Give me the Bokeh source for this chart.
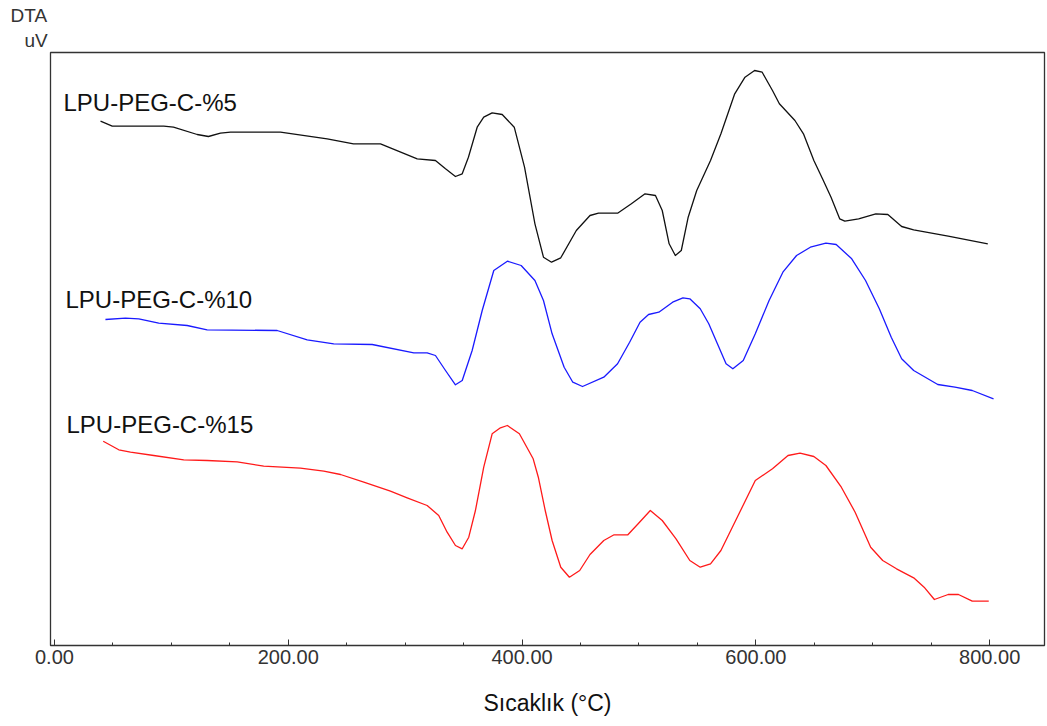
from bokeh.plotting import figure
from bokeh.models import Range1d, FixedTicker, NumeralTickFormatter, Label, Title
from bokeh.embed import file_html
from bokeh.resources import INLINE

# ---- data (temperature in °C, DTA signal in arbitrary uV units) ----
t_5 = [39.4, 49.4, 93.5, 101.8, 122.1, 131.7, 142.0, 150.6, 193.3, 233.3, 255.8, 278.9,
       310.3, 325.9, 334.5, 343.0, 348.8, 354.1, 361.6, 367.2, 374.4, 383.0, 393.3, 402.1,
       411.0, 418.3, 425.2, 433.1, 446.4, 458.1, 465.4, 481.7, 493.5, 505.2, 514.1, 519.9,
       525.8, 531.1, 536.2, 542.1, 549.4, 561.2, 570.1, 581.9, 590.7, 598.9, 605.4, 614.2,
       620.1, 633.4, 640.7, 649.6, 657.0, 664.3, 671.7, 676.1, 687.9, 702.6, 712.9, 724.7,
       735.0, 764.5, 798.4]
dta_5 = [52.43, 51.93, 51.93, 51.83, 51.10, 50.90, 51.23, 51.33, 51.33, 50.67, 50.17, 50.17,
         48.67, 48.50, 47.67, 46.90, 47.17, 48.83, 51.83, 52.83, 53.27, 53.10, 51.83, 47.83,
         42.17, 38.83, 38.33, 38.77, 41.50, 43.00, 43.23, 43.23, 44.17, 45.17, 45.00, 43.50,
         40.17, 39.00, 39.50, 42.83, 45.50, 48.50, 51.17, 55.17, 56.83, 57.50, 57.33, 55.50,
         54.17, 52.50, 51.17, 48.50, 46.67, 44.83, 42.67, 42.43, 42.67, 43.17, 43.10, 41.90,
         41.57, 40.93, 40.17]

t_10 = [43.6, 60.7, 72.1, 89.2, 113.5, 130.6, 190.5, 216.2, 238.9, 271.8, 307.4, 318.8,
        325.9, 334.5, 343.0, 348.8, 357.3, 365.9, 375.8, 387.4, 399.2, 411.0, 418.3, 425.7,
        436.0, 443.4, 451.7, 469.9, 481.7, 492.0, 500.9, 508.2, 517.0, 528.8, 537.6, 543.5,
        552.4, 559.7, 567.1, 574.5, 580.3, 589.2, 599.5, 611.3, 623.1, 634.8, 646.6, 659.9,
        668.7, 682.0, 693.8, 705.6, 715.8, 724.7, 735.0, 755.6, 770.3, 785.1, 803.3]
dta_10 = [32.60, 32.73, 32.67, 32.23, 32.00, 31.57, 31.50, 30.57, 30.17, 30.10, 29.27, 29.27,
          29.00, 27.50, 26.07, 26.50, 29.50, 33.50, 37.50, 38.43, 38.00, 36.50, 34.50, 31.17,
          27.83, 26.33, 25.90, 26.83, 28.17, 30.33, 32.33, 33.10, 33.33, 34.33, 34.77, 34.67,
          33.67, 32.17, 30.17, 28.17, 27.67, 28.50, 31.17, 34.50, 37.33, 39.00, 39.83, 40.23,
          40.10, 38.67, 36.50, 33.67, 30.83, 28.67, 27.50, 26.10, 25.83, 25.50, 24.67]

t_15 = [41.7, 55.0, 65.0, 84.9, 110.6, 130.6, 156.3, 179.0, 210.4, 230.4, 244.7, 264.6,
        287.4, 301.7, 318.8, 328.7, 335.9, 343.0, 348.8, 354.4, 360.1, 367.2, 374.4, 381.5,
        387.4, 397.7, 409.5, 413.9, 419.8, 425.7, 433.1, 440.5, 449.3, 458.1, 469.9, 478.7,
        490.5, 499.3, 509.7, 519.9, 531.7, 543.5, 552.4, 561.2, 570.1, 584.8, 599.5, 614.2,
        627.5, 637.8, 649.6, 659.9, 673.1, 684.9, 698.2, 708.5, 720.3, 735.0, 743.9, 752.7,
        764.5, 773.3, 785.1, 799.2]
dta_15 = [20.43, 19.57, 19.33, 19.00, 18.57, 18.50, 18.37, 17.93, 17.73, 17.43, 17.10, 16.33,
          15.43, 14.77, 14.00, 13.00, 11.33, 10.00, 9.67, 10.83, 13.50, 17.83, 21.17, 21.77,
          22.00, 21.17, 18.67, 16.83, 13.50, 10.50, 7.83, 6.83, 7.50, 9.10, 10.50, 11.07,
          11.07, 12.17, 13.50, 12.50, 10.67, 8.50, 7.83, 8.17, 9.50, 13.00, 16.50, 17.67,
          19.00, 19.23, 18.90, 18.00, 15.83, 13.33, 9.83, 8.50, 7.67, 6.77, 5.83, 4.60,
          5.10, 5.10, 4.43, 4.43]

series_names = ["LPU-PEG-C-%5", "LPU-PEG-C-%10", "LPU-PEG-C-%15"]
series_colors = ["#111111", "#1a1aff", "#ff1a1a"]
label_x = [7.7, 9.4, 10.3]
label_y = [54.3, 34.6, 22.1]

major_ticks = [0, 200, 400, 600, 800]
minor_ticks = list(range(0, 801, 50))

FONT = "Liberation Sans"

p = figure(width=1046, height=718, output_backend="svg", toolbar_location=None,
           x_range=Range1d(-3.4, 846.9), y_range=Range1d(0, 59.3),
           min_border_left=50, min_border_top=52, min_border_right=2, min_border_bottom=0)
p.background_fill_color = "white"
p.border_fill_color = "white"
p.outline_line_color = "#333333"
p.outline_line_width = 1.3
p.xgrid.visible = False
p.ygrid.visible = False
p.yaxis.visible = False

xa = p.xaxis[0]
xa.ticker = FixedTicker(ticks=major_ticks, minor_ticks=minor_ticks)
xa.formatter = NumeralTickFormatter(format="0.00")
xa.axis_line_color = None
xa.major_tick_in = 6
xa.major_tick_out = 0
xa.minor_tick_in = 3
xa.minor_tick_out = 0
xa.major_tick_line_color = "#333333"
xa.minor_tick_line_color = "#333333"
xa.major_label_text_font = FONT
xa.major_label_text_font_size = "20px"
xa.major_label_text_color = "#333333"
xa.major_label_standoff = 4
xa.axis_label = "Sıcaklık (°C)"
xa.axis_label_text_font = FONT
xa.axis_label_text_font_size = "23px"
xa.axis_label_text_font_style = "normal"
xa.axis_label_text_color = "#111111"
xa.axis_label_standoff = 23

for t, d, c in [(t_5, dta_5, series_colors[0]), (t_10, dta_10, series_colors[1]),
                (t_15, dta_15, series_colors[2])]:
    p.line(t, d, line_color=c, line_width=1.3, line_join="round")

for name, lx, ly in zip(series_names, label_x, label_y):
    p.add_layout(Label(x=lx, y=ly, text=name, text_font=FONT, text_font_size="24px",
                       text_color="#111111", text_baseline="alphabetic", text_align="left"))

# unit titles above the frame, at its top-left corner
p.add_layout(Title(text="uV", align="left", offset=-26, standoff=3, text_font=FONT,
                   text_font_size="19px", text_font_style="normal", text_color="#333333",
                   text_line_height=1.0), "above")
p.add_layout(Title(text="DTA", align="left", offset=-40, standoff=2, text_font=FONT,
                   text_font_size="19px", text_font_style="normal", text_color="#333333",
                   text_line_height=1.0), "above")

open("out.html", "w").write(file_html(p, INLINE))
